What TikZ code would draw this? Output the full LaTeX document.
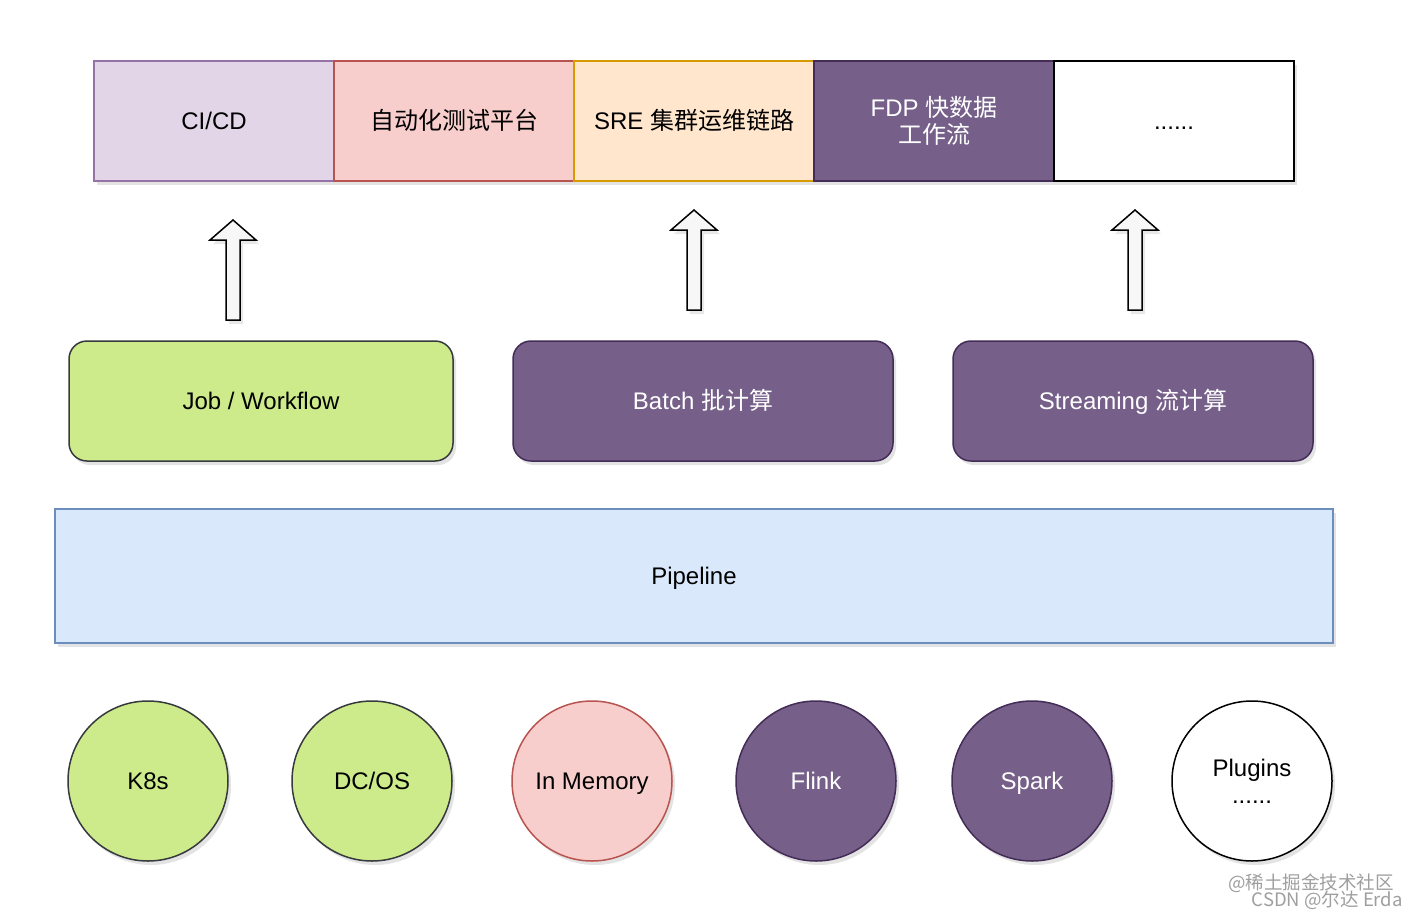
\documentclass[tikz,border=0pt]{standalone}
\usepackage{fontspec}
\setmainfont{Liberation Sans}
\newfontfamily\cjk{Noto Sans CJK SC}
\usetikzlibrary{shadows}
\definecolor{purpleF}{HTML}{E1D5E7}\definecolor{purpleS}{HTML}{9673A6}
\definecolor{redF}{HTML}{F8CECC}\definecolor{redS}{HTML}{B85450}
\definecolor{orangeF}{HTML}{FFE6CC}\definecolor{orangeS}{HTML}{D79B00}
\definecolor{violetF}{HTML}{76608A}\definecolor{violetS}{HTML}{432D57}
\definecolor{greenF}{HTML}{CDEB8B}\definecolor{greenS}{HTML}{36393D}
\definecolor{blueF}{HTML}{DAE8FC}\definecolor{blueS}{HTML}{6C8EBF}
\begin{document}
\begin{tikzpicture}[x=1pt,y=-1pt,
  base/.style={draw, line width=1.5pt, font=\fontsize{24}{29}\selectfont, align=center, inner sep=0pt,
    drop shadow={opacity=0.22, shadow xshift=3pt, shadow yshift=-4pt}},
  oneline/.style={text height=17pt, text depth=0pt},
  topbox/.style={base, minimum width=240, minimum height=120},
  midbox/.style={base, oneline, rounded corners=18pt, minimum height=120},
  circ/.style={base, circle, minimum size=160},
  pcol/.style={fill=purpleF, draw=purpleS},
  rcol/.style={fill=redF, draw=redS},
  ocol/.style={fill=orangeF, draw=orangeS},
  vcol/.style={fill=violetF, draw=violetS, text=white},
  gcol/.style={fill=greenF, draw=greenS},
  wcol/.style={fill=white, draw=black},
  blockarrow/.style={draw=black, line width=1.5pt, fill=gray!6, line join=miter,
    drop shadow={opacity=0.18, shadow xshift=3pt, shadow yshift=-4pt}},
  wmark/.style={font=\cjk\fontsize{18.5}{20}\selectfont, text=gray!75, inner sep=0pt, anchor=east}
]
\useasboundingbox (0,0) rectangle (1418,918);
\fill[white] (0,0) rectangle (1418,918);

% top row
\node[topbox, oneline, pcol] (cicd) at (214,121) {CI/CD};
\node[topbox, oneline, rcol] (auto) at (454,121) {{\cjk 自动化测试平台}};
\node[topbox, oneline, ocol] (sre) at (694,121) {SRE {\cjk 集群运维链路}};
\node[topbox, vcol] (fdp) at (934,121) {FDP {\cjk 快数据}\\[-2pt]{\cjk 工作流}};
\node[topbox, oneline, wcol] (more) at (1174,121) {......};

% block arrows
\draw[blockarrow] (233,220) -- ++(23,20) -- ++(-16,0) -- ++(0,80) -- ++(-14,0) -- ++(0,-80) -- ++(-16,0) -- cycle;
\draw[blockarrow] (694,210) -- ++(23,20) -- ++(-16,0) -- ++(0,80) -- ++(-14,0) -- ++(0,-80) -- ++(-16,0) -- cycle;
\draw[blockarrow] (1135,210) -- ++(23,20) -- ++(-16,0) -- ++(0,80) -- ++(-14,0) -- ++(0,-80) -- ++(-16,0) -- cycle;

% middle row
\node[midbox, gcol, minimum width=384] (job) at (261,401) {Job / Workflow};
\node[midbox, vcol, minimum width=380] (batch) at (703,401) {Batch {\cjk 批计算}};
\node[midbox, vcol, minimum width=360] (stream) at (1133,401) {Streaming {\cjk 流计算}};

% pipeline
\node[base, oneline, fill=blueF, draw=blueS, minimum width=1278, minimum height=134] (pipe) at (694,576) {Pipeline};

% circles
\node[circ, oneline, gcol] (k8s) at (148,781) {K8s};
\node[circ, oneline, gcol] (dcos) at (372,781) {DC/OS};
\node[circ, oneline, rcol] (mem) at (592,781) {In Memory};
\node[circ, oneline, vcol] (flink) at (816,781) {Flink};
\node[circ, oneline, vcol] (spark) at (1032,781) {Spark};
\node[circ, wcol] (plug) at (1252,781) {Plugins\\[-2pt]......};

% watermark
\node[wmark] (wm1) at (1394,883) {@稀土掘金技术社区};
\node[wmark] (wm2) at (1403,900) {CSDN @尔达 Erda};
\end{tikzpicture}
\end{document}
